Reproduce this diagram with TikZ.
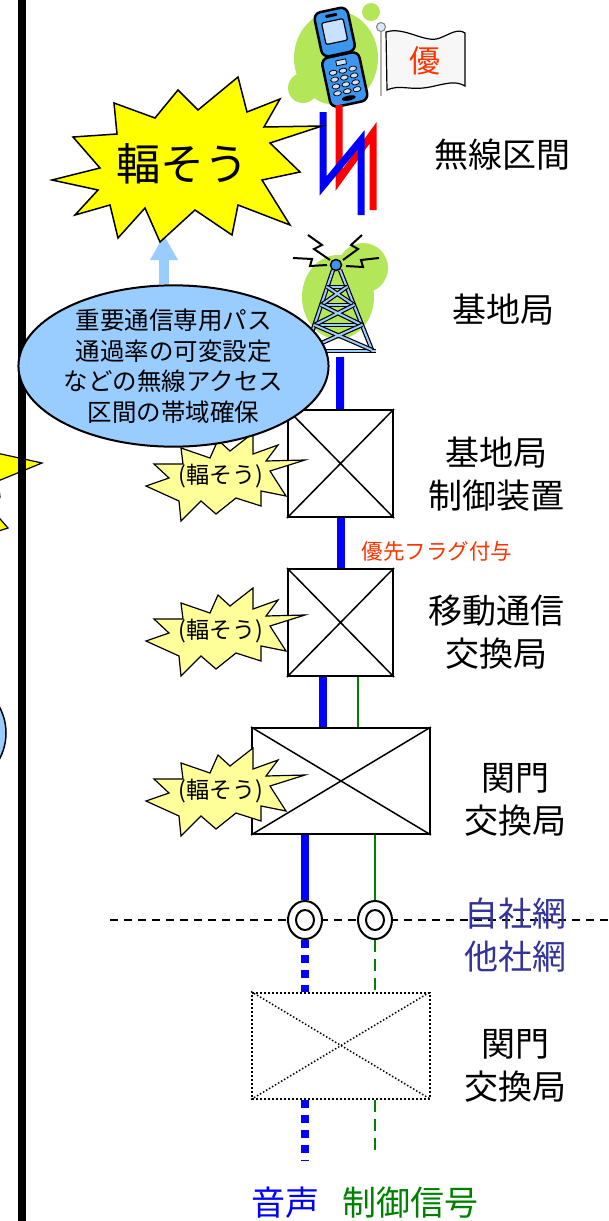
\documentclass[tikz,border=0pt]{standalone}
\usepackage{fontspec}
\setmainfont{Noto Sans CJK JP}
\usepackage{xcolor}
\usetikzlibrary{shapes.geometric, arrows.meta, positioning}

\definecolor{voiceblue}{RGB}{0,0,255}
\definecolor{ctrlgreen}{RGB}{0,128,0}
\definecolor{netblue}{RGB}{51,51,153}
\definecolor{flagred}{RGB}{255,51,0}
\definecolor{skyblue}{RGB}{153,204,255}
\definecolor{blobgreen}{RGB}{180,230,90}
\definecolor{burst}{RGB}{255,255,0}
\definecolor{paleburst}{RGB}{255,255,153}
\definecolor{phoneblue}{RGB}{60,150,240}
\definecolor{screenblue}{RGB}{200,225,255}

\begin{document}
\begin{tikzpicture}[x=1pt, y=-1pt,
    xbox/.style={rectangle, draw, line width=2pt, minimum width=105pt, minimum height=107pt, inner sep=0pt},
    gwbox/.style={xbox, minimum width=178pt, minimum height=106pt},
    sect/.style={align=center, font=\fontsize{34}{43}\selectfont},
    voice/.style={voiceblue, line width=8pt},
    ctrl/.style={ctrlgreen, line width=2pt},
    poi/.style={ellipse, draw, line width=2pt, fill=white, minimum width=34pt, minimum height=38pt, inner sep=0pt},
    smallburst/.style={draw, fill=paleburst, line width=1.2pt, line join=miter},
    mast/.style={draw=black, line width=1.2pt, double=skyblue, double distance=2pt},
    bolt/.style={line width=2pt, line join=miter}]

    \useasboundingbox (0,0) rectangle (608,1221);
    \clip (0,0) rectangle (608,1221);

    % pieces coming in from the left page
    \filldraw[fill=burst, line width=1.2pt] (-40,445) -- (42,463) -- (-2,481) -- (0,497) -- (-6,512) -- (8,528) -- (-30,540) -- cycle;
    \filldraw[fill=skyblue, line width=1.5pt] (-60,733) ellipse (66 and 60);
    \draw[line width=8pt] (22,0) -- (22,1221);

    % green blobs behind the icons
    \fill[blobgreen] (336,58) ellipse (42 and 47) (303,88) circle (15) (371,12) circle (9);
    \fill[blobgreen] (338,297) ellipse (36 and 42) (363,268) circle (25);

    % base station tower
    \draw[mast] (306,350) -- (333,270) (340,270) -- (372,350);
    \draw[mast] (302,351) -- (376,351);
    \draw[mast] (327.3,287) -- (346.8,287) (321.2,305) -- (354,305) (314.4,325) -- (362,325);
    \draw[mast] (327.3,287) -- (354,305) (346.8,287) -- (321.2,305);
    \draw[mast] (321.2,305) -- (362,325) (354,305) -- (314.4,325);
    \draw[mast] (314.4,325) -- (372,350) (362,325) -- (306,350);
    \filldraw[fill=phoneblue, line width=1.5pt] (336,265) circle (5.5);
    \draw[bolt] (308,235) -- (322,245) -- (314,249) -- (330,260);
    \draw[bolt] (362,235) -- (351,245) -- (358,249) -- (343,260);
    \draw[bolt] (293,258) -- (312,259) -- (310,266) -- (327,265);
    \draw[bolt] (379,258) -- (361,260) -- (363,267) -- (346,266);
    \coordinate (bts) at (340,357);

    % mobile phone
    \begin{scope}[shift={(340,57)}, rotate=12]
        \filldraw[fill=phoneblue, line width=2.5pt, rounded corners=7pt] (-17,-48) rectangle (17,-3);
        \filldraw[fill=screenblue, line width=1.2pt, rounded corners=2pt] (-11,-37) rectangle (11,-15);
        \fill[rounded corners=1pt] (-6,-44) rectangle (6,-41);
        \filldraw[fill=phoneblue, line width=2.5pt, rounded corners=7pt] (-19,-2) rectangle (19,48);
        \filldraw[fill=screenblue, line width=0.8pt] (-5,3) rectangle (5,8);
        \foreach \kx in {-10,0,10}
            \foreach \ky in {14,21,28,35}
                \filldraw[fill=screenblue, line width=0.8pt] (\kx,\ky) ellipse (4 and 2.5);
        \fill (0,42) ellipse (7 and 2.5);
    \end{scope}

    % priority flag
    \draw[gray!60, line width=2.5pt] (381,30) -- (381,96);
    \filldraw[fill=skyblue!40, draw=gray, line width=1pt] (381,27) circle (4.5);
    \filldraw[fill=gray!6, line width=1.2pt] (386,32) .. controls (405,26) and (425,44) .. (440,38)
        .. controls (450,34) and (458,28) .. (465,33) -- (465,86)
        .. controls (455,80) and (445,84) .. (430,87) .. controls (410,91) and (400,84) .. (387,90) -- cycle;
    \node[text=flagred, font=\fontsize{31}{31}\selectfont] (prio) at (425,61) {優};

    % radio section
    \draw[red, line width=7pt, line join=miter] (339,105) -- (339,180) -- (373,133) -- (373,210);
    \draw[voiceblue, line width=7pt, line join=miter] (323,112) -- (323,186) -- (361,140) -- (361,215);

    % Nodes
    \node[xbox] (bsc) at (340.5,463.5) {};
    \node[xbox] (msc) at (340.5,622.5) {};
    \node[gwbox] (gw1) at (341,781) {};
    \node[gwbox, dotted] (gw2) at (341,1045.5) {};
    \foreach \b in {bsc,msc,gw1}
        \draw[line width=1.5pt] (\b.north west) -- (\b.south east) (\b.south west) -- (\b.north east);
    \draw[line width=1.5pt, dotted] (gw2.north west) -- (gw2.south east) (gw2.south west) -- (gw2.north east);

    \coordinate (v1) at (323,0);
    \coordinate (c1) at (358,0);
    \coordinate (vend) at (305,1160);
    \coordinate (cend) at (375,1152);

    % company border
    \draw[line width=1.5pt, dash pattern=on 8pt off 6pt] (110,920) -- (608,920);
    \node[poi] (ci1) at (305,920) {};
    \node[poi] (ci2) at (375,920) {};
    \draw[line width=2pt] (ci1) ellipse (9 and 10) (ci2) ellipse (9 and 10);

    % Lines
    \draw[voice] (bts) -- (bsc);
    \draw[voice] (bsc) -- (msc);
    \draw[voice] (msc.south -| v1) -- (gw1.north -| v1);
    \draw[ctrl] (msc.south -| c1) -- (gw1.north -| c1);
    \draw[voice] (gw1.south -| ci1) -- (ci1);
    \draw[ctrl] (gw1.south -| ci2) -- (ci2);
    \draw[voice, dash pattern=on 8pt off 7pt] (ci1) -- (gw2.north -| ci1);
    \draw[voice, dash pattern=on 8pt off 7pt] (gw2.south -| ci1) -- (vend);
    \draw[ctrl, dash pattern=on 12pt off 7pt] (ci2) -- (gw2.north -| ci2);
    \draw[ctrl, dash pattern=on 12pt off 7pt] (gw2.south -| ci2) -- (cend);

    \node[text=flagred, font=\fontsize{21.5}{21.5}\selectfont] (flag) at (437,551) {優先フラグ付与};

    % congestion at each office
    \foreach \y/\n in {476/1, 631/2, 791/3} {
        \draw[smallburst, shift={(221,\y)}] (-40,-28) -- (-11,-18) -- (-3,-36) -- (9,-25) -- (32,-43)
            -- (32,-22) -- (57,-31) -- (45,-15) -- (84,-16) -- (49,-5) -- (65,20) -- (40,15) -- (40,30)
            -- (15,22) -- (-5,38) -- (-20,25) -- (-40,45) -- (-42,25) -- (-75,10) -- (-52,2) -- (-67,-12)
            -- (-38,-12) -- cycle;
        \node[font=\fontsize{23}{23}\selectfont] (jam\n) at (221,\y) {(輻そう)};
    }

    % bandwidth control
    \node[ellipse, draw, line width=2pt, fill=skyblue, minimum width=300pt, minimum height=158pt, inner sep=0pt,
        align=center, font=\fontsize{24.5}{30.5}\selectfont] (qos) at (173.5,366)
        {重要通信専用パス\\通過率の可変設定\\などの無線アクセス\\区間の帯域確保};
    \coordinate (tip) at (164,235);
    \draw[skyblue, line width=10pt, -{Triangle[width=26pt, length=25pt]}] (qos.north -| tip) -- (tip);

    \filldraw[fill=burst, line width=1.5pt, line join=miter] (52,180) -- (100,168) -- (73,137) -- (117,134)
        -- (114,103) -- (155,118) -- (178,90) -- (198,110) -- (238,77) -- (247,112) -- (280,99) -- (264,127)
        -- (322,126) -- (270,143) -- (300,172) -- (262,180) -- (290,225) -- (238,205) -- (232,235)
        -- (195,210) -- (160,242) -- (145,208) -- (118,238) -- (110,205) -- (75,215) -- (98,190) -- cycle;
    \node[font=\fontsize{44}{44}\selectfont] (jam) at (182,164) {輻そう};

    % section names
    \node[sect] (lradio) at (502,155) {無線区間};
    \node[sect] (lbts) at (503,310) {基地局};
    \node[sect] (lbsc) at (496,474) {基地局\\制御装置};
    \node[sect] (lmsc) at (496,632) {移動通信\\交換局};
    \node[sect] (lgw1) at (515,800) {関門\\交換局};
    \node[sect, text=netblue] (lnet) at (515,935) {自社網\\他社網};
    \node[sect] (lgw2) at (515,1066) {関門\\交換局};
    \node[sect, text=voiceblue] (lvoice) at (285,1203) {音声};
    \node[sect, text=ctrlgreen] (lctrl) at (410,1203) {制御信号};

\end{tikzpicture}
\end{document}
